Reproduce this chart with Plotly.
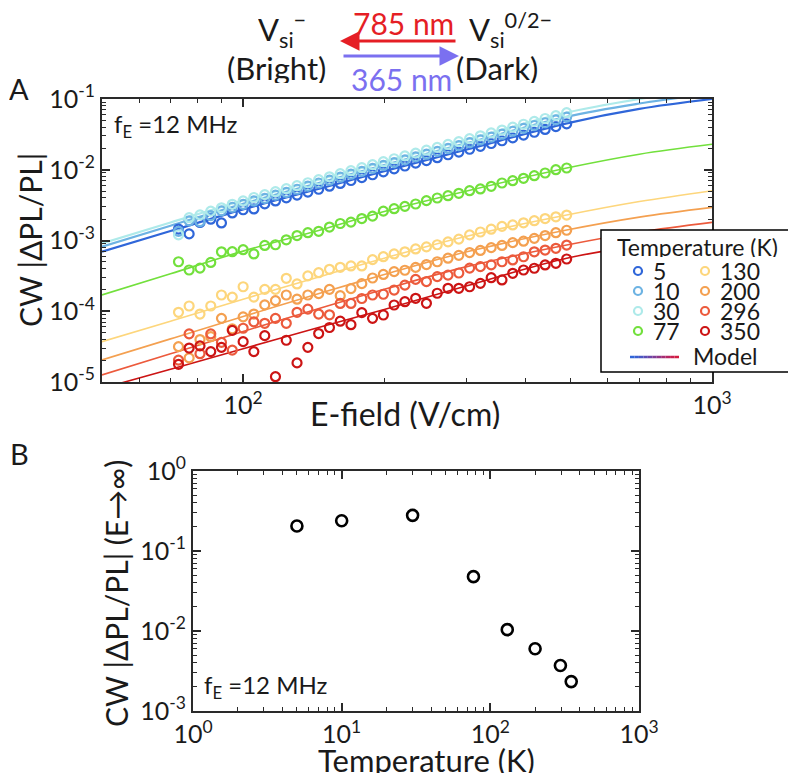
import plotly.graph_objects as go

# page pixels of the final screenshot; the HTML body adds an 8px margin
PAGE_W, PAGE_H = 796, 783
OFF = 8
W, H = PAGE_W - 2 * OFF, PAGE_H - 2 * OFF

# ---------------- data ----------------
E_field = [72.8, 76.7, 80.9, 85.3, 89.9, 94.8, 100.0, 105.4, 111.2, 117.2, 123.6, 130.3,
           137.4, 144.9, 152.8, 161.1, 169.8, 179.1, 188.8, 199.1, 209.9, 221.3, 233.3,
           246.0, 259.4, 273.5, 288.4, 304.1, 320.6, 338.1, 356.5, 375.8, 396.3, 417.8,
           440.6, 464.5, 489.8]

temps = [5, 10, 30, 77, 130, 200, 296, 350]
temp_labels = ["5", "10", "30", "77", "130", "200", "296", "350"]

dpl_5K = [1.45e-3, 1.24e-3, 1.80e-3, 2.00e-3, 1.77e-3, 2.45e-3, 2.72e-3, 2.79e-3, 3.30e-3,
          3.62e-3, 4.00e-3, 4.38e-3, 4.83e-3, 5.30e-3, 5.85e-3, 6.40e-3, 7.05e-3, 7.75e-3,
          8.50e-3, 9.35e-3, 1.03e-2, 1.13e-2, 1.24e-2, 1.35e-2, 1.48e-2, 1.63e-2, 1.78e-2,
          1.95e-2, 2.14e-2, 2.35e-2, 2.57e-2, 2.82e-2, 3.09e-2, 3.39e-2, 3.71e-2, 4.07e-2,
          4.46e-2]
dpl_10K = [1.35e-3, 1.90e-3, 1.85e-3, 2.25e-3, 2.62e-3, 2.95e-3, 3.25e-3, 3.62e-3, 3.95e-3,
           4.38e-3, 4.80e-3, 5.30e-3, 5.88e-3, 6.50e-3, 7.12e-3, 7.85e-3, 8.65e-3, 9.50e-3,
           1.045e-2, 1.15e-2, 1.26e-2, 1.38e-2, 1.52e-2, 1.66e-2, 1.82e-2, 2.00e-2, 2.19e-2,
           2.41e-2, 2.64e-2, 2.90e-2, 3.18e-2, 3.50e-2, 3.84e-2, 4.22e-2, 4.62e-2, 5.07e-2,
           5.55e-2]
dpl_30K = [1.20e-3, 2.10e-3, 2.30e-3, 2.60e-3, 2.90e-3, 3.25e-3, 3.62e-3, 4.05e-3, 4.45e-3,
           4.90e-3, 5.40e-3, 5.95e-3, 6.55e-3, 7.25e-3, 7.95e-3, 8.80e-3, 9.70e-3, 1.07e-2,
           1.18e-2, 1.30e-2, 1.43e-2, 1.57e-2, 1.72e-2, 1.89e-2, 2.07e-2, 2.28e-2, 2.50e-2,
           2.75e-2, 3.02e-2, 3.32e-2, 3.64e-2, 4.00e-2, 4.40e-2, 4.83e-2, 5.30e-2, 5.82e-2,
           6.40e-2]
dpl_77K = [5.01e-4, 3.83e-4, 4.07e-4, 4.90e-4, 6.92e-4, 6.95e-4, 7.41e-4, 6.46e-4, 8.51e-4,
           8.71e-4, 1.023e-3, 1.175e-3, 1.288e-3, 1.349e-3, 1.549e-3, 1.738e-3, 1.820e-3,
           2.042e-3, 2.208e-3, 2.60e-3, 2.818e-3, 3.04e-3, 3.28e-3, 3.66e-3, 3.99e-3, 4.30e-3,
           4.65e-3, 5.06e-3, 5.35e-3, 5.83e-3, 6.50e-3, 7.00e-3, 7.57e-3, 8.24e-3, 8.99e-3,
           1.002e-2, 1.059e-2]
dpl_130K = [9.66e-5, 1.186e-4, 9.12e-5, 1.186e-4, 1.698e-4, 1.585e-4, 2.22e-4, 1.585e-4,
            2.04e-4, 2.04e-4, 2.92e-4, 2.43e-4, 3.16e-4, 3.51e-4, 3.92e-4, 4.18e-4, 4.37e-4,
            4.37e-4, 5.37e-4, 5.90e-4, 6.46e-4, 6.92e-4, 7.59e-4, 8.13e-4, 8.71e-4, 9.55e-4,
            1.047e-3, 1.202e-3, 1.318e-3, 1.445e-3, 1.585e-3, 1.660e-3, 1.778e-3, 1.905e-3,
            2.042e-3, 2.163e-3, 2.29e-3]
dpl_200K = [3.16e-5, 2.19e-5, 3.98e-5, 4.37e-5, 7.94e-5, 5.62e-5, 8.32e-5, 9.12e-5, 1.23e-4,
            1.413e-4, 1.698e-4, 1.479e-4, 1.698e-4, 1.778e-4, 2.04e-4, 1.66e-4, 2.09e-4,
            2.455e-4, 2.95e-4, 3.31e-4, 3.63e-4, 3.80e-4, 4.17e-4, 4.57e-4, 5.01e-4, 5.62e-4,
            6.17e-4, 6.76e-4, 7.24e-4, 7.94e-4, 8.51e-4, 9.33e-4, 9.77e-4, 1.072e-3, 1.175e-3,
            1.288e-3, 1.396e-3]
dpl_296K = [2.04e-5, 4.79e-5, 2.51e-5, 4.79e-5, 3.63e-5, 2.82e-5, 5.75e-5, 7.08e-5, 6.76e-5,
            7.94e-5, 6.76e-5, 9.66e-5, 1.072e-4, 9.12e-5, 8.91e-5, 1.288e-4, 1.288e-4,
            1.514e-4, 1.698e-4, 1.738e-4, 1.995e-4, 2.34e-4, 2.82e-4, 2.63e-4, 3.09e-4,
            3.24e-4, 3.47e-4, 4.07e-4, 4.27e-4, 4.52e-4, 5.01e-4, 5.31e-4, 5.89e-4, 6.92e-4,
            7.33e-4, 7.76e-4, 8.63e-4]
dpl_350K = [1.778e-5, 3.02e-5, 3.24e-5, 2.69e-5, 3.09e-5, 5.37e-5, 3.72e-5, 2.69e-5, 4.52e-5,
            1.189e-5, 3.89e-5, 1.862e-5, 3.09e-5, 4.84e-5, 5.89e-5, 7.24e-5, 6.46e-5,
            9.55e-5, 7.94e-5, 8.85e-5, 1.225e-4, 1.365e-4, 1.524e-4, 1.294e-4, 1.795e-4,
            2.11e-4, 2.11e-4, 2.22e-4, 2.48e-4, 2.98e-4, 2.77e-4, 3.44e-4, 3.83e-4, 4.05e-4,
            4.51e-4, 4.76e-4, 5.48e-4]

E_model = [50, 70, 100, 150, 200, 300, 490, 700, 1000]
model_5K = [6.95e-4, 1.36e-3, 2.75e-3, 5.71e-3, 9.55e-3, 1.93e-2, 4.53e-2, 7.24e-2, 1.00e-1]
model_10K = [8.18e-4, 1.618e-3, 3.30e-3, 6.90e-3, 1.161e-2, 2.377e-2, 5.62e-2, 8.63e-2, 1.20e-1]
model_30K = [9.12e-4, 1.795e-3, 3.67e-3, 7.71e-3, 1.303e-2, 2.68e-2, 6.41e-2, 1.00e-1, 1.40e-1]
model_77K = [1.70e-4, 3.39e-4, 7.08e-4, 1.479e-3, 2.57e-3, 5.01e-3, 1.059e-2, 1.66e-2, 2.29e-2]
model_130K = [3.72e-5, 7.24e-5, 1.479e-4, 3.26e-4, 5.62e-4, 1.148e-3, 2.29e-3, 3.55e-3, 5.06e-3]
model_200K = [2.05e-5, 4.07e-5, 8.41e-5, 1.897e-4, 3.31e-4, 6.92e-4, 1.406e-3, 2.14e-3, 2.94e-3]
model_296K = [1.259e-5, 2.51e-5, 5.19e-5, 1.169e-4, 2.04e-4, 4.27e-4, 8.63e-4, 1.318e-3, 1.807e-3]
model_350K = [8.13e-6, 1.514e-5, 2.95e-5, 6.31e-5, 1.059e-4, 2.29e-4, 5.60e-4, 8.51e-4, 1.175e-3]

# panel B: saturation amplitude vs temperature
amp_inf = [0.205, 0.239, 0.279, 0.0478, 0.0104, 0.0060, 0.0037, 0.00233]

data_series = [dpl_5K, dpl_10K, dpl_30K, dpl_77K, dpl_130K, dpl_200K, dpl_296K, dpl_350K]
model_series = [model_5K, model_10K, model_30K, model_77K, model_130K, model_200K,
                model_296K, model_350K]

# ---------------- style ----------------
colors = ["#2f66d9", "#6db3e3", "#aeeaea", "#72e03c", "#fdd67c", "#f4a050", "#ec5a3c", "#cc1414"]
line_w = [2.2, 2.2, 2.2, 1.6, 1.6, 1.6, 1.6, 1.6]
FONT = "Lato"
TXT = "#1a1a1a"
AX = "#2a2a2a"


def PX(x):
    return (x - OFF) / W


def PY(y):
    return 1 - (y - OFF) / H


fig = go.Figure()

for m, c, lw in zip(model_series, colors, line_w):
    fig.add_trace(go.Scatter(x=E_model, y=m, mode="lines", line=dict(color=c, width=lw, shape="spline"),
                             xaxis="x", yaxis="y", showlegend=False, hoverinfo="skip"))
for d, c, t in zip(data_series, colors, temps):
    fig.add_trace(go.Scatter(x=E_field, y=d, mode="markers", name=f"{t} K",
                             marker=dict(symbol="circle-open", size=9, color=c, line=dict(width=2.2)),
                             xaxis="x", yaxis="y", showlegend=False))

fig.add_trace(go.Scatter(x=temps, y=amp_inf, mode="markers",
                         marker=dict(symbol="circle-open", size=11, color="black", line=dict(width=2.6)),
                         xaxis="x2", yaxis="y2", showlegend=False))

axis_common = dict(type="log", showline=True, linecolor=AX, linewidth=2, mirror="allticks",
                   ticks="inside", ticklen=8, tickwidth=1.5, tickcolor=AX, showgrid=False,
                   zeroline=False, tickfont=dict(family=FONT, size=25, color=TXT),
                   tickmode="array", automargin=False)

minor_E = [50, 60, 70, 80, 90, 200, 300, 400, 500, 600, 700, 800, 900]


def minor_decades(lo, hi):
    return [k * 10 ** p for p in range(lo, hi) for k in range(2, 10)]


def minor(vals):
    return dict(tickmode="array", tickvals=vals, ticks="inside", ticklen=4,
                tickcolor=AX, tickwidth=1.2, showgrid=False)


fig.update_layout(
    width=W, height=H, margin=dict(l=0, r=0, t=0, b=0, pad=0, autoexpand=False),
    paper_bgcolor="white", plot_bgcolor="white",
    font=dict(family=FONT, color=TXT),
    xaxis=dict(axis_common, domain=[PX(102), PX(712)], range=[1.69897, 3], anchor="y",
               tickvals=[100, 1000], ticktext=["10<sup>2</sup>", "10<sup>3</sup>"],
               minor=minor(minor_E)),
    yaxis=dict(axis_common, domain=[PY(382), PY(99)], range=[-5, -1], anchor="x",
               tickvals=[1e-5, 1e-4, 1e-3, 1e-2, 1e-1],
               ticktext=["10<sup>-5</sup>", "10<sup>-4</sup>", "10<sup>-3</sup>",
                         "10<sup>-2</sup>", "10<sup>-1</sup>"],
               minor=minor(minor_decades(-5, -1))),
    xaxis2=dict(axis_common, domain=[PX(193), PX(639)], range=[0, 3], anchor="y2",
                tickvals=[1, 10, 100, 1000],
                ticktext=["10<sup>0</sup>", "10<sup>1</sup>", "10<sup>2</sup>", "10<sup>3</sup>"],
                minor=minor(minor_decades(0, 3))),
    yaxis2=dict(axis_common, domain=[PY(711), PY(471)], range=[-3, 0], anchor="x2",
                tickvals=[1e-3, 1e-2, 1e-1, 1],
                ticktext=["10<sup>-3</sup>", "10<sup>-2</sup>", "10<sup>-1</sup>", "10<sup>0</sup>"],
                minor=minor(minor_decades(-3, 0))),
)

ann = []


def text(x, y, s, size, color=TXT, xanchor="center", yanchor="middle", angle=0, height=None):
    a = dict(x=PX(x), y=PY(y), xref="paper", yref="paper", text=s, showarrow=False,
             font=dict(family=FONT, size=size, color=color), xanchor=xanchor,
             yanchor=yanchor, textangle=angle)
    if height is not None:
        a["height"] = height
    ann.append(a)


# panel labels
text(19, 88, "A", 29, height=30)
text(19, 453, "B", 29, height=30)

# top scheme
RED = "#e51e25"
BLUE = "#7b70f0"
text(256, 30, "V<sub>si</sub><sup>−</sup>", 31, xanchor="left", height=40)
text(276, 68, "(Bright)", 31, height=30)
text(467, 30, "V<sub>si</sub><sup>0/2−</sup>", 31, xanchor="left", height=40)
text(497, 68, "(Dark)", 31, height=30)
text(403, 23, "785 nm", 30, color=RED, height=24)
text(401, 79, "365 nm", 30, color=BLUE, height=26)
ann.append(dict(x=PX(340), y=PY(41), ax=117, ay=0, xref="paper", yref="paper",
                axref="pixel", ayref="pixel", text="", showarrow=True, arrowhead=2,
                arrowsize=1.3, arrowwidth=3, arrowcolor=RED))
ann.append(dict(x=PX(459), y=PY(56), ax=-117, ay=0, xref="paper", yref="paper",
                axref="pixel", ayref="pixel", text="", showarrow=True, arrowhead=2,
                arrowsize=1.3, arrowwidth=3, arrowcolor=BLUE))

# annotations inside panels
text(112, 125, "f<sub>E</sub> =12 MHz", 24, xanchor="left")
text(202, 686, "f<sub>E</sub> =12 MHz", 24, xanchor="left")

# axis titles
text(30, 240, "CW |ΔPL/PL|", 30, angle=-90)
text(405, 413, "E-field (V/cm)", 32, height=32)
text(426, 760, "Temperature (K)", 31, height=26)
text(116, 594, "CW |ΔPL/PL| (E→∞)", 30, angle=-90)

# ---------------- manual legend ----------------
shapes = []
shapes.append(dict(type="rect", xref="paper", yref="paper", x0=PX(601), x1=PX(794),
                   y0=PY(372), y1=PY(230), fillcolor="white", line=dict(color="black", width=1.5),
                   layer="above"))
text(697, 247, "Temperature (K)", 23, height=20)
row_y = [271, 291, 311, 331]
col_mx = [638, 705]
col_tx = [651, 718]
for k, (lab, c) in enumerate(zip(temp_labels, colors)):
    col, row = divmod(k, 4)
    cx, cy = col_mx[col], row_y[row]
    r = 4
    shapes.append(dict(type="circle", xref="paper", yref="paper", x0=PX(cx - r), x1=PX(cx + r),
                       y0=PY(cy + r), y1=PY(cy - r), line=dict(color=c, width=2.2),
                       fillcolor="rgba(0,0,0,0)", layer="above"))
    text(col_tx[col], cy, lab, 23, xanchor="left", height=18)

# gradient "Model" line
grad = ["#2f66d9", "#3a5fd0", "#4a56c2", "#5b4db4", "#6c45a6", "#7e3d96", "#913585",
        "#a42d73", "#b62562", "#c81f4f", "#d21c40"]
x0, x1, yl = 630, 679, 357
n = len(grad)
for k, c in enumerate(grad):
    shapes.append(dict(type="line", xref="paper", yref="paper",
                       x0=PX(x0 + (x1 - x0) * k / n), x1=PX(x0 + (x1 - x0) * (k + 1) / n),
                       y0=PY(yl), y1=PY(yl), line=dict(color=c, width=2.5), layer="above"))
text(691, 356, "Model", 23, xanchor="left", height=18)

fig.update_layout(annotations=ann, shapes=shapes)

fig.write_html("out.html")
